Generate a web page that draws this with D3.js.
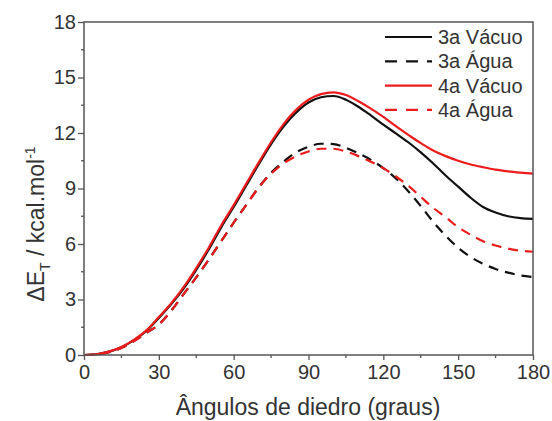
<!DOCTYPE html>
<html>
<head>
<meta charset="utf-8">
<script src="https://cdn.jsdelivr.net/npm/d3@7"></script>
<style>
  html, body { margin: 0; padding: 0; background: #fff; }
  text { font-family: "Liberation Sans", Arial, sans-serif; fill: #333; }
</style>
</head>
<body>
<div id="chart"></div>
<script>
// angles (graus) and energies (kcal/mol), every 5 degrees
const angles  = d3.range(0, 181, 5);
const vacuo3a = [0, 0.04, 0.18, 0.42, 0.8, 1.3, 2.0, 2.75, 3.6, 4.6, 5.7, 6.9, 8.0, 9.15, 10.3, 11.4, 12.35, 13.1, 13.65, 13.93,
                 14.0, 13.8, 13.42, 12.95, 12.45, 11.98, 11.5, 10.95, 10.35, 9.7, 9.1, 8.5, 8.0, 7.7, 7.5, 7.4, 7.36];
const agua3a  = [0, 0.03, 0.15, 0.38, 0.75, 1.2, 1.65, 2.4, 3.3, 4.2, 5.15, 6.15, 7.15, 8.1, 9.05, 9.85, 10.45, 10.95, 11.25, 11.42,
                 11.4, 11.2, 10.9, 10.55, 10.1, 9.55, 8.85, 8.05, 7.2, 6.45, 5.8, 5.3, 4.93, 4.65, 4.45, 4.3, 4.22];
const vacuo4a = [0, 0.04, 0.18, 0.43, 0.82, 1.33, 2.05, 2.8, 3.68, 4.7, 5.8, 7.0, 8.1, 9.25, 10.4, 11.5, 12.48, 13.25, 13.8, 14.1,
                 14.2, 14.05, 13.72, 13.32, 12.87, 12.37, 11.9, 11.45, 11.05, 10.75, 10.5, 10.3, 10.15, 10.02, 9.93, 9.86, 9.8];
const agua4a  = [0, 0.03, 0.15, 0.38, 0.75, 1.2, 1.65, 2.4, 3.3, 4.2, 5.15, 6.15, 7.15, 8.1, 9.05, 9.8, 10.35, 10.75, 11.0, 11.15,
                 11.15, 11.0, 10.75, 10.45, 10.1, 9.65, 9.15, 8.55, 7.95, 7.45, 6.9, 6.5, 6.15, 5.92, 5.75, 5.64, 5.58];
const xTicks  = [0, 30, 60, 90, 120, 150, 180];
const yTicks  = [0, 3, 6, 9, 12, 15, 18];
const seriesNames = ["3a Vácuo", "3a Água", "4a Vácuo", "4a Água"];

const W = 552, H = 421;
const margin = {left: 84, right: 19, top: 22, bottom: 66};
const RED = "#ec1c1c", BLACK = "#111";

const series = [
  {name: seriesNames[0], values: vacuo3a, color: BLACK, dash: null},
  {name: seriesNames[1], values: agua3a,  color: BLACK, dash: "10,7"},
  {name: seriesNames[2], values: vacuo4a, color: RED,   dash: null},
  {name: seriesNames[3], values: agua4a,  color: RED,   dash: "10,7"}
];

const svg = d3.select("#chart").append("svg")
    .attr("width", W)
    .attr("height", H);

const x = d3.scaleLinear().domain([0, 180]).range([margin.left, W - margin.right]);
const y = d3.scaleLinear().domain([0, 18]).range([H - margin.bottom, margin.top]);

const line = d3.line()
    .x((d, i) => x(angles[i]))
    .y(d => y(d))
    .curve(d3.curveMonotoneX);

// curves
const plot = svg.append("g");
series.forEach(s => {
  plot.append("path")
      .datum(s.values)
      .attr("d", line)
      .attr("fill", "none")
      .attr("stroke", s.color)
      .attr("stroke-width", 2.2)
      .attr("stroke-dasharray", s.dash);
});

// frame
const axisColor = "#555";
svg.append("rect")
    .attr("x", x(0)).attr("y", y(18))
    .attr("width", x(180) - x(0)).attr("height", y(0) - y(18))
    .attr("fill", "none").attr("stroke", axisColor).attr("stroke-width", 1.5);

// axes
const xAxis = svg.append("g")
    .attr("transform", `translate(0,${y(0)})`)
    .call(d3.axisBottom(x).tickValues(xTicks).tickSize(5).tickPadding(5));
xAxis.append("g").selectAll("line")
    .data(d3.range(15, 180, 30)).join("line")
    .attr("x1", d => x(d)).attr("x2", d => x(d))
    .attr("y1", 0).attr("y2", 3);

const yAxis = svg.append("g")
    .attr("transform", `translate(${x(0)},0)`)
    .call(d3.axisLeft(y).tickValues(yTicks).tickSize(6).tickPadding(2));
yAxis.append("g").selectAll("line")
    .data(d3.range(1.5, 18, 3)).join("line")
    .attr("y1", d => y(d)).attr("y2", d => y(d))
    .attr("x1", 0).attr("x2", -3);

[xAxis, yAxis].forEach(g => {
  g.select(".domain").remove();
  g.selectAll("line").attr("stroke", axisColor).attr("stroke-width", 1.3);
  g.selectAll("text").style("font-size", "20px").attr("fill", "#333");
});

// axis titles
svg.append("text")
    .attr("x", 308)
    .attr("y", 415)
    .attr("text-anchor", "middle")
    .style("font-size", "23px")
    .text("Ângulos de diedro (graus)");

const yt = svg.append("text")
    .attr("transform", "translate(44,224) rotate(-90)")
    .attr("text-anchor", "middle")
    .style("font-size", "23px");
yt.append("tspan").text("ΔE");
yt.append("tspan").attr("dy", 6).style("font-size", "14px").text("T");
yt.append("tspan").attr("dy", -6).text(" / kcal.mol");
yt.append("tspan").attr("dy", -9).style("font-size", "14px").text("-1");

// legend
const legend = svg.append("g");
series.forEach((s, i) => {
  const ly = 37 + i * 24.3;
  legend.append("line")
      .attr("x1", 385).attr("x2", 432)
      .attr("y1", ly).attr("y2", ly)
      .attr("stroke", s.color).attr("stroke-width", 2.2)
      .attr("stroke-dasharray", s.dash ? "12,9" : null);
  legend.append("text")
      .attr("x", 438).attr("y", ly + 7)
      .style("font-size", "20px")
      .text(s.name);
});
</script>
</body>
</html>
